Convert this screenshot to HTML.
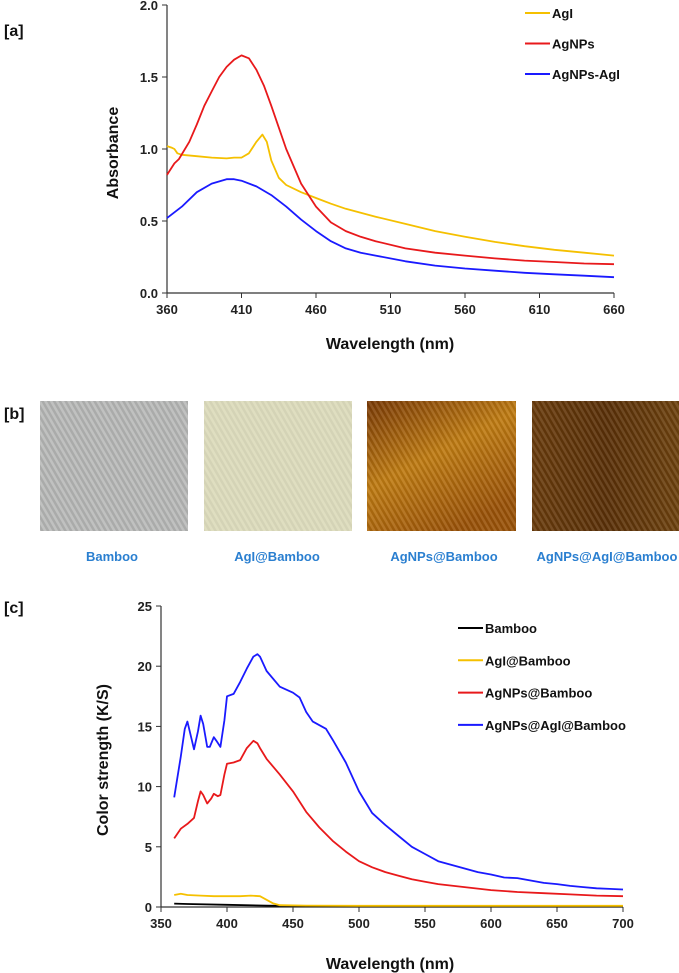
<!DOCTYPE html>
<html><head><meta charset="utf-8"><style>
html,body{margin:0;padding:0;background:#fff;width:679px;height:973px;overflow:hidden}
svg{display:block;font-family:"Liberation Sans",sans-serif}
.tick{font-size:13px;font-weight:bold;fill:#222}
.lab{font-size:16px;font-weight:bold;fill:#111}
.leg{font-size:13px;font-weight:bold;fill:#111}
.cap{font-size:13px;font-weight:bold;fill:#2a7fd0}
</style></head><body>
<svg id="fig" width="679" height="973" viewBox="0 0 679 973">
<defs>
<pattern id="weave" width="5" height="5" patternUnits="userSpaceOnUse" patternTransform="rotate(60)">
<rect width="5" height="2.5" fill="rgba(255,255,255,0.10)"/><rect y="2.5" width="5" height="2.5" fill="rgba(0,0,0,0.08)"/>
</pattern>
<linearGradient id="g3" x1="0" y1="0" x2="0.6" y2="1"><stop offset="0" stop-color="#7a3a06"/><stop offset="0.5" stop-color="#c07c12"/><stop offset="1" stop-color="#9a5208"/></linearGradient>
<linearGradient id="g4" x1="0" y1="0" x2="1" y2="0"><stop offset="0" stop-color="#6a3c0c"/><stop offset="0.5" stop-color="#5a3008"/><stop offset="1" stop-color="#6e420e"/></linearGradient>
</defs>
<text x="4" y="36" class="lab">[a]</text>
<text x="4" y="419" class="lab">[b]</text>
<text x="4" y="613" class="lab">[c]</text>
<g id="chartA"></g>
<g id="photos">
<rect x="40" y="401" width="148" height="130" fill="#b9bab9"/>
<rect x="40" y="401" width="148" height="130" fill="url(#weave)"/>
<rect x="204" y="401" width="148" height="130" fill="#dddcbd"/>
<rect x="204" y="401" width="148" height="130" fill="url(#weave)" opacity="0.5"/>
<rect x="367" y="401" width="149" height="130" fill="url(#g3)"/>
<rect x="367" y="401" width="149" height="130" fill="url(#weave)"/>
<rect x="532" y="401" width="147" height="130" fill="url(#g4)"/>
<rect x="532" y="401" width="147" height="130" fill="url(#weave)"/>
<text x="112" y="561" text-anchor="middle" class="cap">Bamboo</text>
<text x="277" y="561" text-anchor="middle" class="cap">AgI@Bamboo</text>
<text x="444" y="561" text-anchor="middle" class="cap">AgNPs@Bamboo</text>
<text x="607" y="561" text-anchor="middle" class="cap">AgNPs@AgI@Bamboo</text>
</g>
<g id="chartC"></g>
</svg>
<script>
// Chart A data
const aTicksX = [360,410,460,510,560,610,660];
const aTicksY = [0.0,0.5,1.0,1.5,2.0];
const aNames = ["AgI","AgNPs","AgNPs-AgI"];
const aColors = ["#f5c000","#e8191b","#1a1aff"];
const aAgI_x = [360,363,365,367,370,380,390,400,405,410,415,420,424,427,430,435,440,450,460,470,480,500,520,540,560,580,600,620,640,660];
const aAgI_y = [1.02,1.01,1.0,0.97,0.96,0.95,0.94,0.935,0.94,0.94,0.97,1.05,1.10,1.05,0.92,0.80,0.75,0.70,0.66,0.62,0.585,0.53,0.48,0.43,0.39,0.355,0.325,0.30,0.28,0.26];
const aNP_x = [360,365,368,375,380,385,390,395,400,405,410,415,420,425,430,440,450,460,470,480,490,500,520,540,560,580,600,620,640,660];
const aNP_y = [0.82,0.90,0.93,1.05,1.17,1.30,1.40,1.50,1.57,1.62,1.65,1.63,1.55,1.44,1.30,1.00,0.76,0.60,0.49,0.43,0.39,0.36,0.31,0.28,0.26,0.24,0.225,0.215,0.205,0.20];
const aMix_x = [360,370,380,390,400,405,410,420,430,440,450,460,470,480,490,500,520,540,560,580,600,620,640,660];
const aMix_y = [0.52,0.60,0.70,0.76,0.79,0.79,0.78,0.74,0.68,0.60,0.51,0.43,0.36,0.31,0.28,0.26,0.22,0.19,0.17,0.155,0.14,0.13,0.12,0.11];
// Chart C data
const cTicksX = [350,400,450,500,550,600,650,700];
const cTicksY = [0,5,10,15,20,25];
const cNames = ["Bamboo","AgI@Bamboo","AgNPs@Bamboo","AgNPs@AgI@Bamboo"];
const cColors = ["#000000","#f5c000","#e8191b","#1a1aff"];
const cBam_x = [360,370,400,430,450,500,700];
const cBam_y = [0.28,0.25,0.18,0.12,0.08,0.05,0.05];
const cAgI_x = [360,365,370,380,390,400,410,418,425,430,435,440,460,500,700];
const cAgI_y = [1.0,1.1,1.0,0.95,0.9,0.9,0.9,0.95,0.9,0.6,0.3,0.15,0.12,0.1,0.1];
const cNP_x = [360,365,370,375,378,380,382,385,388,390,393,395,398,400,405,410,415,420,423,425,430,440,450,460,470,480,490,500,510,520,530,540,550,560,580,600,620,640,660,680,700];
const cNP_y = [5.7,6.5,6.9,7.4,8.8,9.6,9.3,8.6,9.0,9.4,9.2,9.3,11.0,11.9,12.0,12.2,13.2,13.8,13.6,13.2,12.3,11.0,9.6,7.9,6.6,5.5,4.6,3.8,3.3,2.9,2.6,2.3,2.1,1.9,1.65,1.4,1.25,1.15,1.05,0.95,0.9];
const cMix_x = [360,365,368,370,372,375,378,380,382,385,387,390,392,395,398,400,405,410,415,420,423,425,430,440,450,455,460,465,470,475,480,490,500,510,520,530,540,550,560,570,580,590,600,610,620,630,640,650,660,670,680,690,700];
const cMix_y = [9.1,12.5,14.8,15.4,14.5,13.1,14.6,15.9,15.2,13.3,13.3,14.1,13.8,13.3,15.5,17.5,17.7,18.7,19.8,20.8,21.0,20.8,19.6,18.3,17.8,17.4,16.2,15.4,15.1,14.8,13.9,12.0,9.6,7.8,6.8,5.9,5.0,4.4,3.8,3.5,3.2,2.9,2.7,2.45,2.4,2.2,2.0,1.9,1.75,1.65,1.55,1.5,1.45];

const NS="http://www.w3.org/2000/svg";
function mk(parent,tag,attrs,text){const e=document.createElementNS(NS,tag);for(const k in attrs)e.setAttribute(k,attrs[k]);if(text!==undefined)e.textContent=text;parent.appendChild(e);return e;}

function chart(g,o){
  const sx=v=>o.L+(v-o.x0)/(o.x1-o.x0)*(o.R-o.L);
  const sy=v=>o.B-(v-o.y0)/(o.y1-o.y0)*(o.B-o.T);
  const ax=mk(g,'line',{x1:o.L,y1:o.B,x2:o.R,y2:o.B,stroke:'#333','stroke-width':1.2});
  
  
  const ay=mk(g,'line',{x1:o.L,y1:o.T,x2:o.L,y2:o.B,stroke:'#333','stroke-width':1.2});
  
  
  o.tx.forEach(v=>{
    mk(g,'line',{x1:sx(v),y1:o.B,x2:sx(v),y2:o.B+5,stroke:'#333'});
    const t=mk(g,'text',{x:sx(v),y:o.B+21,'text-anchor':'middle',class:'tick'},String(v));
    
    
  });
  o.ty.forEach(v=>{
    mk(g,'line',{x1:o.L-5,y1:sy(v),x2:o.L,y2:sy(v),stroke:'#333'});
    const t=mk(g,'text',{x:o.L-9,y:sy(v)+5,'text-anchor':'end',class:'tick'},o.fmt(v));
    
    
  });
  const xt=mk(g,'text',{x:o.xtx,y:o.xty,'text-anchor':'middle',class:'lab'},'Wavelength (nm)');
  
  
  const yt=mk(g,'text',{x:0,y:0,'text-anchor':'middle',class:'lab',transform:`translate(${o.ytx},${o.yty}) rotate(-90)`},o.ytitle);
  
  
  o.series.forEach((s,i)=>{
    const d=s.x.map((v,j)=>(j?'L':'M')+sx(v).toFixed(1)+','+sy(s.y[j]).toFixed(1)).join(' ');
    const p=mk(g,'path',{d:d,fill:'none',stroke:o.colors[i],'stroke-width':1.8,'stroke-linejoin':'round'});
    
    
    const ly=o.legY+i*o.legDy;
    const ll=mk(g,'line',{x1:o.legX,y1:ly,x2:o.legX+25,y2:ly,stroke:o.colors[i],'stroke-width':2});
    
    
    const lt=mk(g,'text',{x:o.legX+27,y:ly+5,class:'leg'},o.names[i]);
    
    
  });
}
chart(document.getElementById('chartA'),{L:167,R:614,T:5,B:293,x0:360,x1:660,y0:0,y1:2,tx:aTicksX,ty:aTicksY,fmt:v=>v.toFixed(1),
  xtx:390,xty:349,ytx:118,yty:153,ytitle:'Absorbance',names:aNames,colors:aColors,
  series:[{x:aAgI_x,y:aAgI_y},{x:aNP_x,y:aNP_y},{x:aMix_x,y:aMix_y}],legX:525,legY:13,legDy:30.5});
chart(document.getElementById('chartC'),{L:161,R:623,T:606,B:907,x0:350,x1:700,y0:0,y1:25,tx:cTicksX,ty:cTicksY,fmt:v=>String(v),
  xtx:390,xty:969,ytx:108,yty:760,ytitle:'Color strength (K/S)',names:cNames,colors:cColors,
  series:[{x:cBam_x,y:cBam_y},{x:cAgI_x,y:cAgI_y},{x:cNP_x,y:cNP_y},{x:cMix_x,y:cMix_y}],legX:458,legY:628,legDy:32.3});
</script>
</body></html>
